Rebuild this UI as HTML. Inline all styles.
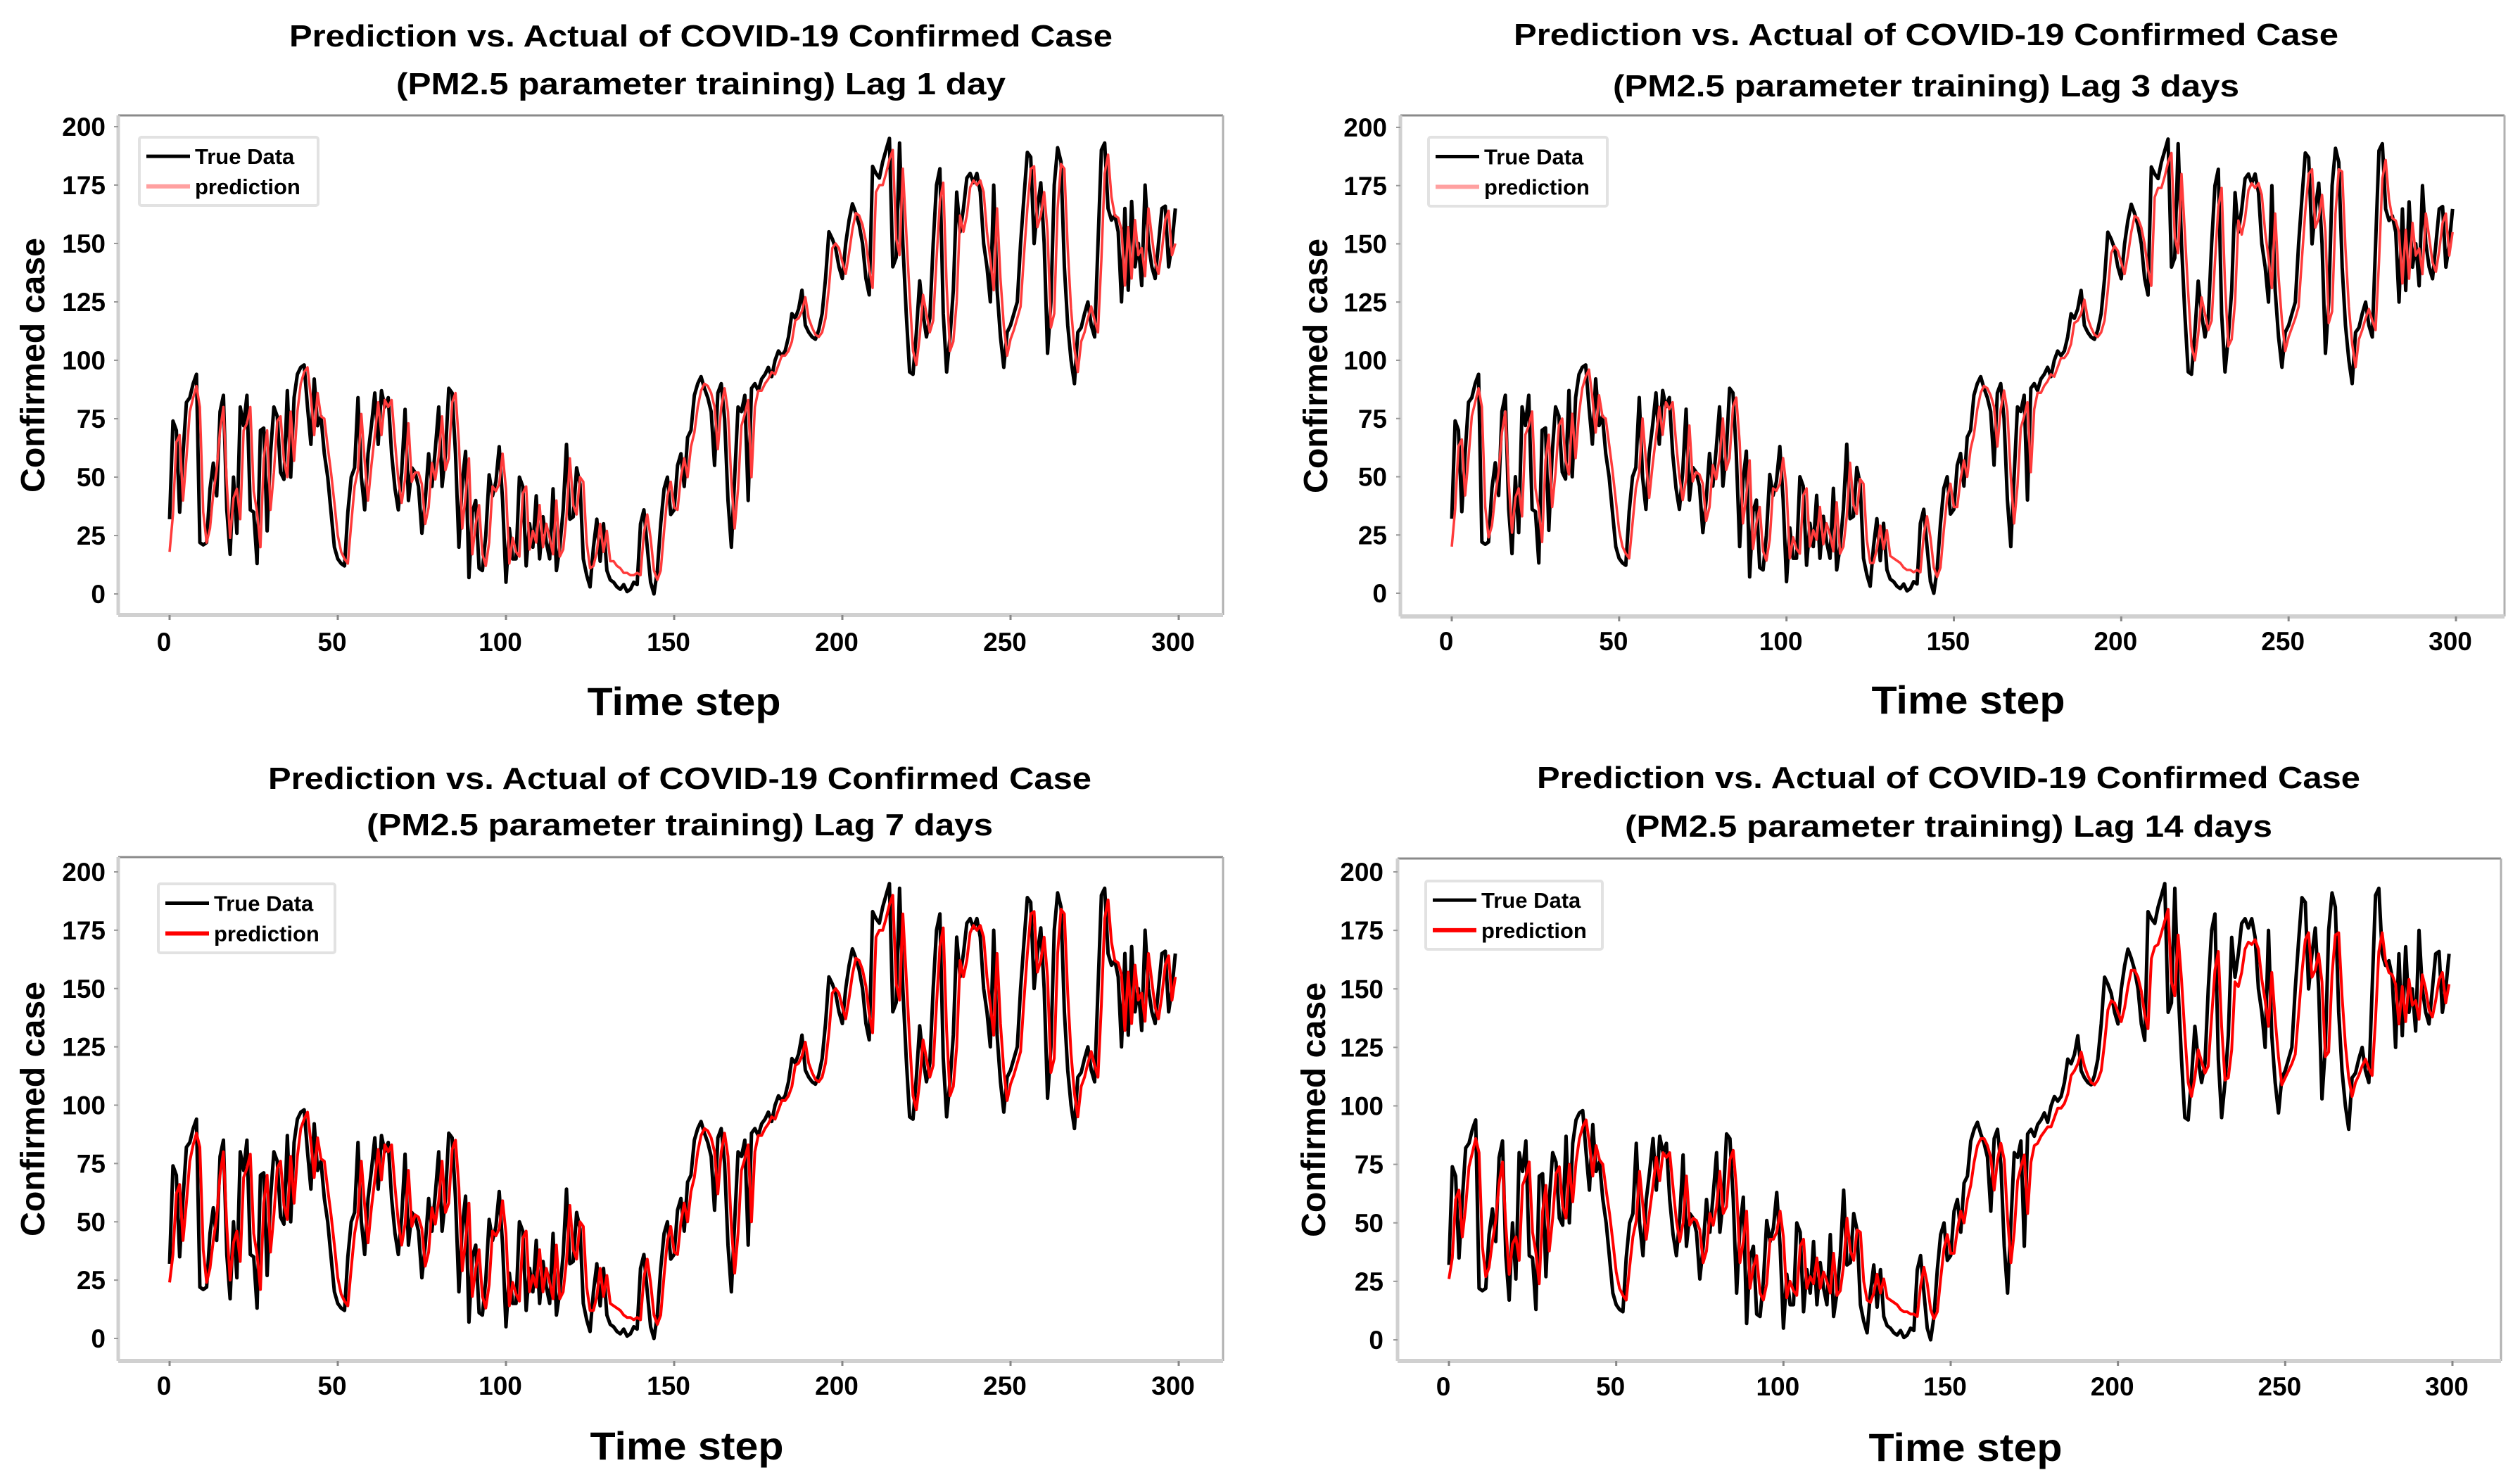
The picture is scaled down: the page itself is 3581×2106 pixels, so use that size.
<!DOCTYPE html>
<html><head><meta charset="utf-8"><style>
html,body{margin:0;padding:0;background:#fff;}
svg{display:block;font-family:"Liberation Sans",Arial,sans-serif;}
</style></head><body>
<svg id="fig" width="3581" height="2106" viewBox="0 0 3581 2106" xmlns="http://www.w3.org/2000/svg"></svg>
<script>
const xTicks=[0,50,100,150,200,250,300];
const yTicks=[0,25,50,75,100,125,150,175,200];
const trueData=[32,74,70,35,60,82,84,90,94,22,21,22,45,56,42,78,85,36,17,50,26,80,72,85,36,35,13,70,71,27,60,80,76,52,49,87,50,84,94,97,98,80,64,92,72,76,60,50,35,20,15,13,12,35,50,54,84,50,36,60,72,86,64,87,80,84,60,45,36,52,79,40,54,52,46,26,40,60,46,62,80,46,60,88,86,60,20,48,61,7,35,40,11,10,25,51,42,48,63,40,5,28,15,15,50,46,12,30,20,42,15,33,22,15,45,10,20,36,64,32,33,54,47,15,8,3,20,32,14,30,10,6,5,3,2,4,1,2,5,4,30,36,20,5,0,10,30,45,50,34,36,55,60,46,67,70,85,90,93,88,84,78,55,86,90,75,40,20,50,80,78,85,40,88,90,87,92,94,97,93,100,104,102,104,110,120,118,122,130,115,112,110,109,113,120,135,155,152,148,140,135,150,160,167,163,158,150,135,128,183,180,178,185,190,195,140,144,193,150,120,95,94,112,134,120,110,118,150,175,182,120,95,110,130,172,155,165,178,180,176,180,172,150,140,125,175,130,110,97,112,115,120,125,150,170,189,187,150,165,176,150,103,125,175,191,185,140,115,100,90,112,114,120,125,115,110,150,190,193,165,160,162,155,125,165,130,168,140,150,132,175,150,140,135,150,165,166,140,150,165];
const predLag1=[18,34,65,68,40,58,78,84,89,80,35,22,28,43,53,70,80,47,24,41,45,32,70,73,80,44,35,20,58,70,36,52,74,76,57,50,78,57,78,90,95,97,84,68,86,76,75,63,52,39,25,18,15,13,30,46,53,77,57,40,55,68,82,68,83,80,83,65,49,39,49,73,48,52,52,47,30,37,56,49,59,76,53,58,82,86,65,28,42,58,17,30,38,17,12,22,46,44,47,60,45,13,24,18,16,43,46,19,27,22,38,20,30,24,17,40,16,19,33,58,38,34,50,48,22,11,12,18,30,18,27,14,14,12,11,9,9,8,8,9,8,26,34,24,10,6,10,27,42,48,37,36,50,58,50,63,69,80,87,90,89,86,80,62,80,88,78,48,28,45,72,77,83,50,80,87,87,90,92,95,94,98,102,102,104,108,117,118,121,127,118,114,111,110,112,118,131,148,150,148,142,137,146,156,163,162,158,151,139,131,172,175,175,180,186,190,152,145,182,155,128,104,98,110,128,120,112,117,143,168,176,132,104,108,125,162,155,162,174,177,175,177,172,155,143,130,165,135,115,102,109,113,118,123,145,165,182,183,157,162,172,155,114,120,165,184,182,148,122,105,95,108,112,118,123,117,112,143,180,188,170,162,161,156,132,157,135,160,145,148,136,165,153,142,137,147,160,164,145,150];
const predLag3=[20,36,63,66,42,58,76,82,88,80,37,24,29,42,52,69,78,48,26,41,45,33,68,72,78,45,36,22,57,68,37,52,72,75,57,51,77,58,77,88,93,96,84,69,85,76,75,64,53,40,27,20,17,15,30,45,52,75,57,41,55,67,80,68,82,79,82,65,50,40,49,72,48,52,51,47,31,37,55,49,58,75,53,58,80,84,65,30,42,57,19,30,37,18,14,23,45,44,47,58,45,15,24,19,17,42,45,20,27,23,37,21,30,25,18,39,17,20,33,56,38,34,49,47,23,13,13,19,29,19,27,16,15,14,13,11,10,10,9,10,9,25,33,24,11,7,11,27,41,47,37,37,49,57,50,62,68,79,86,89,88,85,80,63,79,87,78,50,30,46,71,76,82,52,79,86,86,89,91,94,93,97,101,101,103,107,116,117,120,126,118,114,111,110,112,117,130,146,149,147,142,137,145,155,162,161,157,150,139,132,170,174,174,179,185,189,153,146,180,155,129,106,100,111,127,120,113,117,142,166,174,133,106,109,125,160,154,161,173,176,174,176,171,155,144,131,163,136,117,104,110,114,118,123,144,164,180,182,157,161,171,155,116,121,163,182,181,148,123,107,97,109,113,118,122,117,113,142,178,186,169,161,160,155,133,156,135,159,145,148,137,163,153,142,138,147,159,163,145,155];
const predLag7=[24,36,62,66,42,58,76,83,88,82,38,24,30,42,52,70,80,48,25,41,46,33,69,73,79,45,36,21,58,70,37,53,73,76,57,51,78,58,78,90,94,97,84,69,86,77,76,64,53,40,26,19,16,14,30,45,53,76,57,41,56,68,81,68,83,80,83,65,50,40,49,72,48,53,52,47,31,37,56,49,59,76,54,58,81,85,65,29,42,58,18,30,38,18,13,23,46,44,47,59,45,14,24,19,16,43,46,20,27,22,38,20,30,24,17,40,17,20,33,57,38,34,50,48,22,12,12,18,30,18,27,15,14,13,12,10,9,9,8,9,8,26,34,24,10,6,10,27,42,48,37,36,50,58,50,63,69,80,87,90,89,86,80,62,80,88,78,48,28,45,72,77,83,50,80,87,87,90,92,95,94,98,102,102,104,108,117,118,121,127,118,114,111,110,112,118,131,148,150,148,142,137,146,156,163,162,158,151,139,131,172,175,175,180,186,190,152,145,182,155,128,104,98,110,128,120,112,117,143,168,176,132,104,108,125,162,155,162,174,177,175,177,172,155,143,130,165,135,115,102,109,113,118,123,145,165,182,183,157,162,172,155,114,120,165,184,182,148,122,105,95,108,112,118,123,117,112,143,180,188,170,162,161,156,132,157,135,160,145,148,136,165,153,142,137,147,160,164,145,155];
const predLag14=[26,35,60,64,44,57,74,80,86,80,40,27,31,42,51,67,76,49,28,41,44,34,66,70,76,46,37,24,55,66,38,52,71,74,57,52,75,59,76,86,91,94,84,70,83,77,75,64,54,42,29,22,19,17,31,44,51,72,57,43,55,66,78,68,80,78,80,65,51,42,50,70,49,52,51,47,33,38,54,49,57,72,54,57,77,81,64,33,42,55,22,31,36,20,17,24,43,43,46,55,44,18,25,21,19,40,43,22,27,24,35,22,29,25,20,37,19,21,32,52,38,34,47,46,25,17,16,20,28,20,26,18,17,16,15,13,12,12,11,11,10,23,31,24,13,9,12,26,39,45,37,37,47,55,50,60,66,76,83,86,86,83,78,64,77,84,77,52,33,46,68,74,79,54,76,83,84,87,89,91,91,95,99,99,101,105,113,115,118,123,117,113,110,109,111,115,127,141,145,144,140,136,142,151,158,158,155,149,139,133,163,168,169,174,179,184,153,147,173,154,131,110,104,112,124,119,114,117,138,158,166,134,111,112,124,153,151,157,167,170,169,171,167,154,145,134,157,137,121,109,112,115,118,122,139,157,171,174,155,158,165,153,121,123,156,173,174,147,126,112,104,110,113,117,120,116,113,137,166,174,162,157,156,152,135,151,136,154,143,145,137,156,150,141,138,145,154,157,144,152];

const NS='http://www.w3.org/2000/svg';
const svg=document.getElementById('fig');
function mk(tag,attrs,parent){const e=document.createElementNS(NS,tag);for(const k in attrs)e.setAttribute(k,attrs[k]);(parent||svg).appendChild(e);return e;}

const panels=[
 {lag:'Lag 1 day',pred:predLag1,pc:'#ff3b3b',lc:'#ffa0a0',pw:3.5,box:[168,164,1738,874],x0:241,x300:1675,y0:844,y200:180,t1:50,t2:118,tc:996,w1:1170,w2:866,xl:[972,996],ylx:46,ytr:150,xty:912,leg:[198,195,452,292]},
 {lag:'Lag 3 days',pred:predLag3,pc:'#ff3b3b',lc:'#ffa0a0',pw:3.5,box:[1990,164,3559,876],x0:2063,x300:3490,y0:843,y200:181,t1:48,t2:121,tc:2737,w1:1172,w2:890,xl:[2797,994],ylx:1869,ytr:1971,xty:911,leg:[2030,195,2284,293]},
 {lag:'Lag 7 days',pred:predLag7,pc:'#ff0000',lc:'#ff0000',pw:4,box:[168,1218,1738,1934],x0:241,x300:1675,y0:1902,y200:1239,t1:1105,t2:1171,tc:966,w1:1170,w2:890,xl:[976,2054],ylx:46,ytr:150,xty:1969,leg:[225,1256,476,1354]},
 {lag:'Lag 14 days',pred:predLag14,pc:'#ff0000',lc:'#ff0000',pw:4,box:[1986,1220,3554,1934],x0:2059,x300:3485,y0:1904,y200:1239,t1:1104,t2:1173,tc:2769,w1:1170,w2:920,xl:[2793,2056],ylx:1866,ytr:1966,xty:1970,leg:[2026,1252,2277,1349]}
];

panels.forEach((p,pi)=>{
 const g=mk('g',{});
 
 
 const xs=t=>p.x0+(t/300)*(p.x300-p.x0);
 const ys=v=>p.y0-(v/200)*(p.y0-p.y200);
 const [L,T,R,B]=p.box;
 const t1=mk('text',{x:p.tc,y:p.t1+16,'text-anchor':'middle','font-size':44,'font-weight':'bold',textLength:p.w1,lengthAdjust:'spacingAndGlyphs',fill:'#000'},g);
 t1.textContent='Prediction vs. Actual of COVID-19 Confirmed Case';
 
 
 const t2=mk('text',{x:p.tc,y:p.t2+16,'text-anchor':'middle','font-size':44,'font-weight':'bold',textLength:p.w2,lengthAdjust:'spacingAndGlyphs',fill:'#000'},g);
 t2.textContent='(PM2.5 parameter training) '+p.lag;
 
 
 const plot=mk('rect',{x:L,y:T,width:R-L,height:B-T,fill:'#fff',stroke:'none'},g);
 
 
 mk('line',{x1:L,y1:T,x2:R,y2:T,stroke:'#8a8a8a','stroke-width':3},g);
 mk('line',{x1:R,y1:T,x2:R,y2:B,stroke:'#b0b0b0','stroke-width':3},g);
 mk('line',{x1:L,y1:T,x2:L,y2:B,stroke:'#d0d0d0','stroke-width':5},g);
 mk('line',{x1:L,y1:B,x2:R,y2:B,stroke:'#d0d0d0','stroke-width':6},g);
 yTicks.forEach(v=>{
  mk('line',{x1:L-6,y1:ys(v),x2:L,y2:ys(v),stroke:'#999','stroke-width':2},g);
  const tx=mk('text',{x:p.ytr,y:ys(v)+13,'text-anchor':'end','font-size':37,'font-weight':'bold',fill:'#000'},g);
  tx.textContent=v;
  
  
 });
 xTicks.forEach(v=>{
  mk('line',{x1:xs(v),y1:B,x2:xs(v),y2:B+7,stroke:'#888','stroke-width':3},g);
  const tx=mk('text',{x:xs(v)-8,y:p.xty+13,'text-anchor':'middle','font-size':37,'font-weight':'bold',fill:'#000'},g);
  tx.textContent=v;
  
  
 });
 const xl=mk('text',{x:p.xl[0],y:p.xl[1]+20,'text-anchor':'middle','font-size':56,'font-weight':'bold',textLength:275,lengthAdjust:'spacingAndGlyphs',fill:'#000'},g);
 xl.textContent='Time step';
 
 
 const cy=(T+B)/2;
 const yl=mk('text',{x:0,y:0,transform:'translate('+(p.ylx+17)+','+cy+') rotate(-90)','text-anchor':'middle','font-size':48,'font-weight':'bold',textLength:362,lengthAdjust:'spacingAndGlyphs',fill:'#000'},g);
 yl.textContent='Confirmed case';
 
 
 let d1='',d2='';
 trueData.forEach((v,i)=>{d1+=(i?'L':'M')+xs(i).toFixed(1)+' '+ys(v).toFixed(1);});
 p.pred.forEach((v,i)=>{d2+=(i?'L':'M')+xs(i).toFixed(1)+' '+ys(v).toFixed(1);});
 const l1=mk('path',{d:d1,fill:'none',stroke:'#000','stroke-width':5,'stroke-linejoin':'round'},g);
 
 
 const l2=mk('path',{d:d2,fill:'none',stroke:p.pc,'stroke-width':p.pw,'stroke-linejoin':'round'},g);
 
 
 const [a,b,c,e]=p.leg;
 const lg=mk('g',{},g);
 
 
 mk('rect',{x:a,y:b,width:c-a,height:e-b,fill:'#fff',stroke:'#e2e2e2','stroke-width':4,rx:3},lg);
 const h=e-b;
 const ya=b+h*0.28, yb=b+h*0.72;
 mk('line',{x1:a+10,y1:ya,x2:a+72,y2:ya,stroke:'#000','stroke-width':5},lg);
 mk('line',{x1:a+10,y1:yb,x2:a+72,y2:yb,stroke:p.lc,'stroke-width':6},lg);
 const le1=mk('text',{x:a+79,y:ya+11,'font-size':31,'font-weight':'bold',fill:'#000'},lg);
 le1.textContent='True Data';
 
 
 const le2=mk('text',{x:a+79,y:yb+11,'font-size':31,'font-weight':'bold',fill:'#000'},lg);
 le2.textContent='prediction';
 
 
});
</script>
</body></html>
